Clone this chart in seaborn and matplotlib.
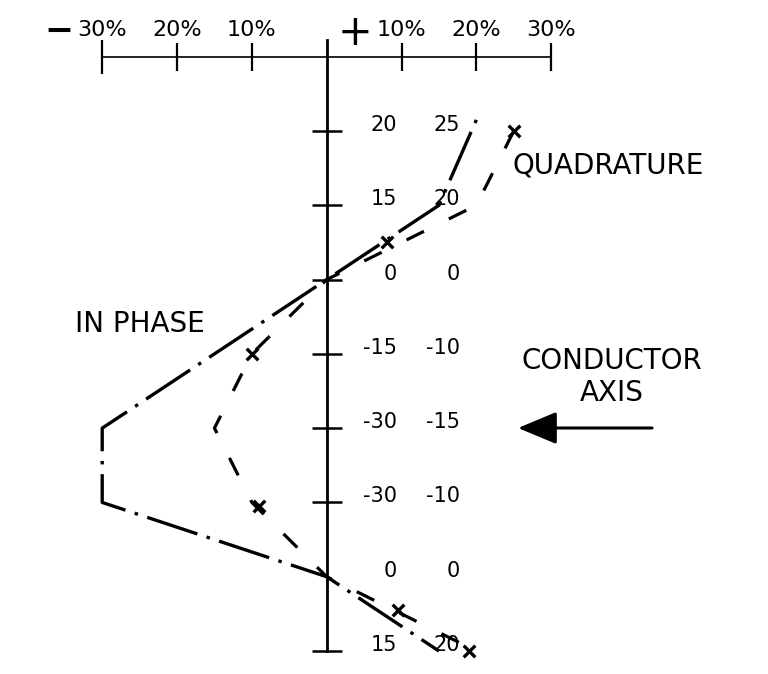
import matplotlib
matplotlib.use("Agg")
import matplotlib.pyplot as plt
import seaborn as sns

# ---- data -------------------------------------------------------------
stations = [0, 1, 2, 3, 4, 5, 6, 7]
in_phase_stations = [-0.15, 1, 2, 3, 4, 5, 6, 7]
in_phase_pct = [20, 15, 0, -15, -30, -30, 0, 15]
quadrature_pct = [25, 20, 0, -10, -15, -10, 0, 20]
quad_mark_stations = [0, 1.5, 3, 5.05, 6.45, 7]
quad_mark_pct = [25, 8, -10, -9, 9.5, 19]
x_ticks = [-30, -20, -10, 10, 20, 30]
x_tick_labels = ["30%", "20%", "10%", "10%", "20%", "30%"]
station_ticks = [0, 1, 2, 3, 4, 5, 7]

# ---- layout -----------------------------------------------------------
W, H, DPI = 768, 674, 100
PX_PER_PCT = 7.483     # pixels per percent along the response axis
X0 = 326.7             # pixel column of the conductor-line (0 %)
ROW0 = 131.0           # pixel row of station 0
ROW_STEP = 74.29       # pixels per station


def pct_at(px):
    return (px - X0) / PX_PER_PCT


def station_at(py):
    return (py - ROW0) / ROW_STEP


def fig_xy(px, py):
    return px / W, 1 - py / H


sns.set_style("white")
plt.rcParams["font.family"] = ["DejaVu Sans"]
plt.rcParams["text.color"] = "black"
plt.rcParams["lines.scale_dashes"] = False

fig = plt.figure(figsize=(W / DPI, H / DPI), dpi=DPI)
ax = fig.add_axes([0, 0, 1, 1])
ax.set_xlim(pct_at(0), pct_at(W))
ax.set_ylim(station_at(H), station_at(0))

# ---- axes: vertical station line and horizontal percent scale ---------
for side in ("bottom", "right"):
    ax.spines[side].set_visible(False)
ax.spines["left"].set_position(("data", 0))
ax.spines["left"].set_bounds(station_at(40), 7)
ax.spines["left"].set_linewidth(2.0)
ax.spines["left"].set_color("black")
ax.spines["top"].set_position(("data", station_at(57)))
ax.spines["top"].set_bounds(-30, 30)
ax.spines["top"].set_linewidth(1.2)
ax.spines["top"].set_color("black")

ax.xaxis.set_ticks_position("top")
ax.set_xticks(x_ticks)
ax.set_xticklabels(x_tick_labels)
ax.tick_params(axis="x", direction="inout", length=20, width=1.6,
               pad=2, labelsize=16, colors="black",
               top=True, bottom=False, labeltop=True, labelbottom=False)
ax.xaxis.get_major_ticks()[0].tick2line.set_markersize(25)

ax.yaxis.set_ticks_position("left")
ax.set_yticks(station_ticks)
ax.tick_params(axis="y", direction="inout", length=22, width=1.8,
               colors="black", labelleft=False)
ax.set_xlabel("")
ax.set_ylabel("")

# ---- response profiles ------------------------------------------------
sns.lineplot(x=in_phase_pct, y=in_phase_stations, sort=False,
             estimator=None, color="black", linewidth=2.4, ax=ax)
ax.lines[-1].set_dashes([2.5, 7, 38, 7])

sns.lineplot(x=quadrature_pct, y=stations, sort=False,
             estimator=None, color="black", linewidth=2.3, ax=ax)
ax.lines[-1].set_dashes([14, 20])

sns.scatterplot(x=quad_mark_pct, y=quad_mark_stations, marker="x",
                s=70, color="black", linewidth=2.4, ax=ax, zorder=5)

# ---- station value columns --------------------------------------------
col1, col2 = pct_at(397), pct_at(460)
for st, a, b in zip(stations, in_phase_pct, quadrature_pct):
    ax.text(col1, st, f"{a}", ha="right", va="baseline", fontsize=15)
    ax.text(col2, st, f"{b}", ha="right", va="baseline", fontsize=15)

# ---- annotations ------------------------------------------------------
fig.text(*fig_xy(74, 31), "\u2212", ha="right", va="center",
         fontsize=25, fontweight="bold")
fig.text(*fig_xy(355, 33), "+", ha="center", va="center", fontsize=30)

fig.text(*fig_xy(75, 324), "IN PHASE", ha="left", va="center", fontsize=20)
fig.text(*fig_xy(513, 166), "QUADRATURE", ha="left", va="center",
         fontsize=20)
fig.text(*fig_xy(612, 377), "CONDUCTOR\nAXIS", ha="center", va="center",
         fontsize=20, linespacing=1.2, multialignment="center")
ax.annotate("", xy=fig_xy(518, 428), xytext=fig_xy(652, 428),
            xycoords="figure fraction", textcoords="figure fraction",
            arrowprops=dict(arrowstyle="-|>,head_length=2.4,head_width=1.0",
                            mutation_scale=10, lw=2.2, color="black",
                            shrinkA=0, shrinkB=0))

fig.savefig("out.png", dpi=DPI, facecolor="white")
